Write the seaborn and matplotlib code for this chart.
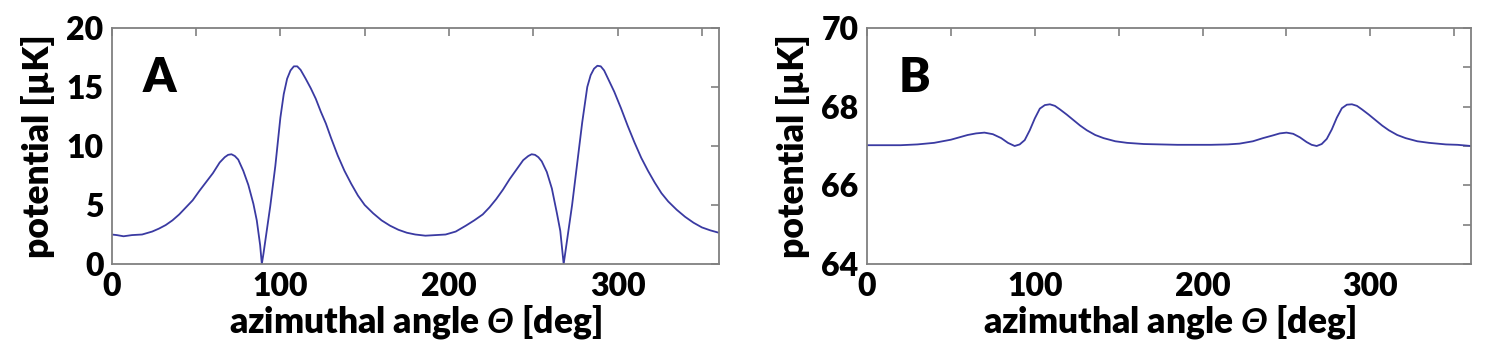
import matplotlib
matplotlib.use("Agg")
import matplotlib.pyplot as plt
from matplotlib.ticker import MultipleLocator
import seaborn as sns
import pandas as pd

# ---------------- data ----------------
theta_A = [0, 3, 7, 12, 18, 24, 28, 32, 36, 40, 44, 48, 52, 56, 60, 64, 67, 69, 71, 73, 75,
           78, 81, 84, 86, 88, 89, 90, 92, 94, 97, 100, 102, 104, 106, 108, 110, 112, 115, 118,
           121, 124, 127, 130, 134, 138, 142, 146, 150, 155, 160, 165, 170, 175, 180, 186, 192,
           198, 204, 210, 215, 220, 224, 228, 232, 236, 240, 244, 247, 249, 251, 253, 255, 258,
           261, 264, 266, 268, 269, 271, 273, 276, 279, 282, 284, 286, 288, 290, 292, 295, 298,
           302, 306, 310, 314, 318, 322, 326, 330, 335, 340, 345, 350, 355, 360]
pot_A = [2.5, 2.45, 2.35, 2.45, 2.5, 2.75, 3.0, 3.3, 3.7, 4.2, 4.8, 5.4, 6.2, 6.95, 7.7, 8.6,
         9.05, 9.25, 9.3, 9.15, 8.85, 7.9, 6.7, 5.1, 3.7, 1.6, 0.0, 0.9, 2.9, 4.9, 8.3, 12.4,
         14.4, 15.7, 16.4, 16.75, 16.75, 16.45, 15.7, 14.9, 14.0, 12.9, 11.9, 10.7, 9.2, 7.9,
         6.8, 5.8, 5.0, 4.3, 3.7, 3.25, 2.9, 2.65, 2.5, 2.4, 2.45, 2.5, 2.75, 3.25, 3.7, 4.2,
         4.8, 5.5, 6.3, 7.2, 8.0, 8.8, 9.15, 9.3, 9.25, 9.05, 8.7, 7.8, 6.4, 4.3, 2.8, 0.0,
         1.0, 3.0, 5.0, 8.5, 12.0, 15.0, 16.0, 16.55, 16.8, 16.75, 16.4, 15.5, 14.6, 13.2,
         11.7, 10.3, 9.0, 7.9, 6.9, 6.0, 5.3, 4.6, 4.0, 3.5, 3.1, 2.85, 2.65]

theta_B = [0, 10, 20, 30, 40, 50, 55, 60, 65, 70, 75, 80, 84, 88, 91, 94, 97, 100, 103, 106,
           109, 112, 115, 119, 123, 127, 131, 136, 141, 148, 155, 165, 175, 185, 195, 205, 215,
           222, 230, 236, 242, 246, 250, 254, 258, 262, 265, 268, 271, 274, 277, 280, 283, 286,
           289, 292, 295, 299, 303, 307, 311, 316, 321, 328, 335, 345, 352, 360]
pot_B = [67.02, 67.02, 67.02, 67.04, 67.08, 67.16, 67.22, 67.28, 67.32, 67.34, 67.3, 67.2,
         67.08, 67.0, 67.04, 67.15, 67.4, 67.7, 67.95, 68.04, 68.06, 68.02, 67.93, 67.8, 67.66,
         67.52, 67.4, 67.28, 67.2, 67.12, 67.08, 67.05, 67.04, 67.03, 67.03, 67.03, 67.04,
         67.06, 67.12, 67.2, 67.27, 67.32, 67.34, 67.31, 67.22, 67.1, 67.03, 67.0, 67.05,
         67.18, 67.42, 67.72, 67.96, 68.05, 68.06, 68.02, 67.93, 67.8, 67.66, 67.52, 67.4,
         67.28, 67.2, 67.12, 67.08, 67.04, 67.03, 67.0]

panel_labels = ["A", "B"]
ylims = [(0, 20), (64, 70)]
xlabel = "azimuthal angle $Θ$ [deg]"
ylabel = "potential [µK]"

# ---------------- style ----------------
sns.set_style("white")
plt.rcParams["font.family"] = ["Lato", "DejaVu Sans"]
plt.rcParams["font.weight"] = 800
plt.rcParams["mathtext.fontset"] = "custom"
plt.rcParams["mathtext.rm"] = "Lato:italic:bold"
plt.rcParams["mathtext.it"] = "Lato:italic:bold"
plt.rcParams["text.color"] = "black"
plt.rcParams["axes.labelcolor"] = "black"

line_color = "#3a3aa2"
spine_color = "#808080"
W = 800

fig = plt.figure(figsize=(15, 3.62), dpi=100)
ax1 = fig.add_axes([0.0745, 0.2707, 0.4047, 0.652])
ax2 = fig.add_axes([0.578, 0.2707, 0.4027, 0.652])

dfA = pd.DataFrame({"theta": theta_A, "pot": pot_A})
dfB = pd.DataFrame({"theta": theta_B, "pot": pot_B})

sns.lineplot(data=dfA, x="theta", y="pot", ax=ax1, color=line_color, linewidth=1.3)
sns.lineplot(data=dfB, x="theta", y="pot", ax=ax2, color=line_color, linewidth=1.3)

for ax, lab, yl in zip([ax1, ax2], panel_labels, ylims):
    ax.set_xlim(0, 360)
    ax.set_ylim(*yl)
    ax.xaxis.set_major_locator(MultipleLocator(100))
    ax.xaxis.set_minor_locator(MultipleLocator(50))
    for s in ax.spines.values():
        s.set_color(spine_color)
        s.set_linewidth(1.3)
    ax.tick_params(which="both", direction="in", top=True, right=True, length=6,
                   width=1.2, color=spine_color, labelcolor="black", labelsize=23, pad=6)
    ax.set_xlabel(xlabel, fontsize=25.5, fontweight=W, labelpad=1, color="black")
    ax.set_ylabel(ylabel, fontsize=25.5, fontweight=W, labelpad=8, color="black")
    ax.text(0.079, 0.79, lab, transform=ax.transAxes, fontsize=34, color="black",
            fontweight=W, ha="center", va="center")

ax1.yaxis.set_major_locator(MultipleLocator(5))
ax2.yaxis.set_major_locator(MultipleLocator(2))
ax2.yaxis.set_minor_locator(MultipleLocator(1))

for ax in (ax1, ax2):
    for t in ax.get_xticklabels() + ax.get_yticklabels():
        t.set_fontweight(W)

fig.savefig("out.png", dpi=100, facecolor="white")
